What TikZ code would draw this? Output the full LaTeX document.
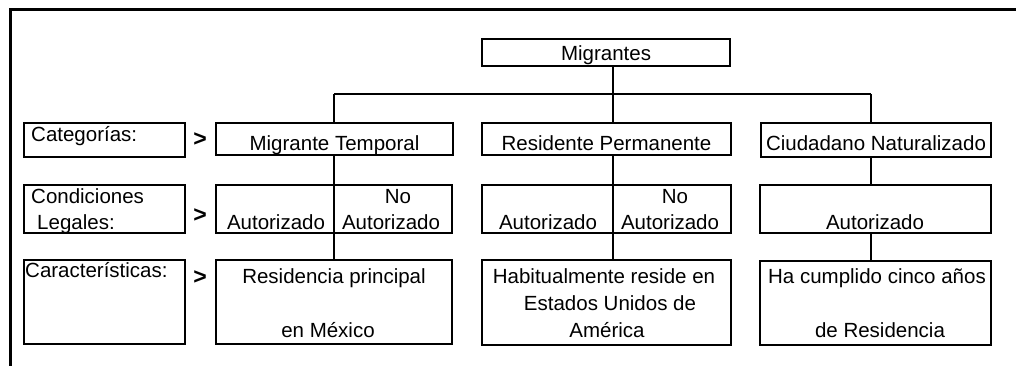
\documentclass[tikz,border=0pt]{standalone}
\usepackage{fontspec}
\setmainfont{Liberation Sans}
\begin{document}
\begin{tikzpicture}[x=1pt,y=-1pt,
  box/.style={draw,fill=white,line width=1.8pt,inner sep=0pt,outer sep=0pt},
  txt/.style={inner sep=0pt,anchor=base,font=\fontsize{20.5}{24}\selectfont},
  ltxt/.style={inner sep=0pt,anchor=base west,font=\fontsize{20.5}{24}\selectfont},
  gt/.style={inner sep=0pt,font=\fontsize{23}{26}\selectfont\bfseries},
  conn/.style={line width=2.6pt},
  frame/.style={line width=3pt}]
\useasboundingbox (0,0) rectangle (1016,366);
% frame
\coordinate (fbl) at (10,366);
\coordinate (ftl) at (10,10);
\coordinate (ftr) at (1016,10);
\draw[frame] (fbl) -- (ftl) -- (ftr);
% junction coordinates
\coordinate (jl) at (334,94);
\coordinate (jm) at (613,94);
\coordinate (jr) at (871,94);
% trunk lines (boxes filled white above)
\draw[conn] (jl) -- (jr);
% boxes
\node[box,minimum width=248pt,minimum height=27pt] (mig) at (606,52.5) {};
\node[box,minimum width=161pt,minimum height=34pt] (cat) at (104.5,140) {};
\node[box,minimum width=237pt,minimum height=32pt] (mt) at (334.5,139) {};
\node[box,minimum width=249pt,minimum height=32pt] (rp) at (606.5,139) {};
\node[box,minimum width=230pt,minimum height=34pt] (cn) at (876,140) {};
\node[box,minimum width=161pt,minimum height=48pt] (cl) at (104.5,209) {};
\node[box,minimum width=236pt,minimum height=48pt] (la) at (334,209) {};
\node[box,minimum width=249pt,minimum height=48pt] (ma) at (606.5,209) {};
\node[box,minimum width=231pt,minimum height=48pt] (ra) at (875.5,209) {};
\node[box,minimum width=161pt,minimum height=84pt] (car) at (104.5,302) {};
\node[box,minimum width=236pt,minimum height=84pt] (res) at (334,302) {};
\node[box,minimum width=249pt,minimum height=85pt] (hab) at (606.5,302.5) {};
\node[box,minimum width=231pt,minimum height=84pt] (ha) at (875.5,303) {};
% connectors between boxes
\draw[conn] (jm) -- (jm |- mig.south);
\draw[conn] (jl) -- (jl |- mt.north);
\draw[conn] (jm) -- (jm |- rp.north);
\draw[conn] (jr) -- (jr |- cn.north);
\draw[conn] (jl |- mt.south) -- (jl |- la.north);
\draw[conn] (jm |- rp.south) -- (jm |- ma.north);
\draw[conn] (jr |- cn.south) -- (jr |- ra.north);
\draw[conn,line width=1.8pt] (jl |- la.north) -- (jl |- la.south);
\draw[conn,line width=1.8pt] (jm |- ma.north) -- (jm |- ma.south);
\draw[conn] (jl |- la.south) -- (jl |- res.north);
\draw[conn] (jm |- ma.south) -- (jm |- hab.north);
\draw[conn] (jr |- ra.south) -- (jr |- ha.north);
% texts
\node[txt] (tmig) at (606,61) {Migrantes};
\node[ltxt] (tcat) at (31,142) {Categorías:};
\node[txt] (tmt) at (334.5,151) {Migrante Temporal};
\node[txt] (trp) at (606.5,151) {Residente Permanente};
\node[txt] (tcn) at (876,151) {Ciudadano Naturalizado};
\node[ltxt] (tcl1) at (31,204) {Condiciones};
\node[txt] (tcl2) at (76,229) {Legales:};
\node[txt] (tla1) at (276,229) {Autorizado};
\node[txt] (tla2) at (398,204) {No};
\node[txt] (tla3) at (391,229) {Autorizado};
\node[txt] (tma1) at (548,229) {Autorizado};
\node[txt] (tma2) at (675,204) {No};
\node[txt] (tma3) at (670,229) {Autorizado};
\node[txt] (tra) at (875,229) {Autorizado};
\node[ltxt] (tcar) at (25,277) {Características:};
\node[txt] (tres1) at (334,283) {Residencia principal};
\node[txt] (tres2) at (328,337) {en México};
\node[txt] (thab1) at (604,283) {Habitualmente reside en};
\node[txt] (thab2) at (610,310) {Estados Unidos de};
\node[txt] (thab3) at (607,337) {América};
\node[txt] (tha1) at (877,283) {Ha cumplido cinco años};
\node[txt] (tha2) at (880,337) {de Residencia};
\node[gt] (g1) at (200,140) {>};
\node[gt] (g2) at (200,216) {>};
\node[gt] (g3) at (200,278) {>};
\end{tikzpicture}
\end{document}
